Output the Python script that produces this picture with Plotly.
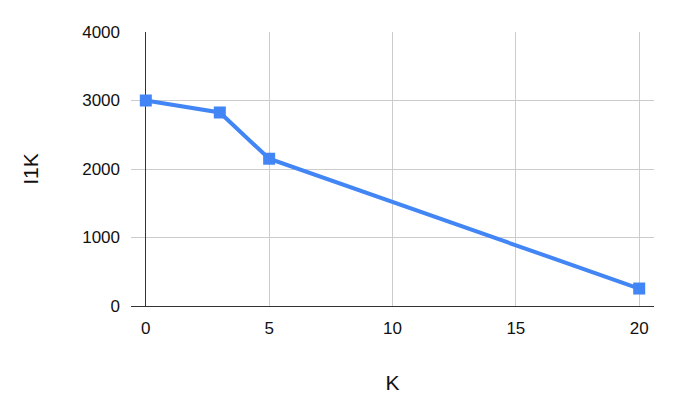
import plotly.graph_objects as go

k_values = [0, 3, 5, 20]
i1k_values = [3000, 2825, 2150, 255]
x_ticks = [0, 5, 10, 15, 20]
y_ticks = [0, 1000, 2000, 3000, 4000]

fig = go.Figure()
fig.add_trace(go.Scatter(
    x=k_values, y=i1k_values, mode="lines+markers",
    line=dict(color="#4285F4", width=4),
    marker=dict(symbol="square", size=12, color="#4285F4"),
    showlegend=False,
))

font = dict(family="Liberation Sans, Arial, sans-serif", size=17, color="#111111")
fig.update_layout(
    width=667, height=410,
    margin=dict(l=123, r=21, t=24, b=112),
    paper_bgcolor="white", plot_bgcolor="white",
    font=font,
    xaxis=dict(
        range=[-0.6, 20.6], tickvals=x_ticks, showgrid=True, gridcolor="#cccccc", gridwidth=1,
        zeroline=True, zerolinecolor="#333333", zerolinewidth=1,
        showline=False, ticks="", ticklabelstandoff=10,
        title=dict(text="K", font=dict(size=21, color="#111111"), standoff=38),
    ),
    yaxis=dict(
        range=[0, 4000], tickvals=y_ticks, showgrid=True, gridcolor="#cccccc", gridwidth=1,
        zeroline=True, zerolinecolor="#333333", zerolinewidth=1,
        ticks="", ticklabelstandoff=10,
        title=dict(text="I1K", font=dict(size=21, color="#111111"), standoff=37),
    ),
)
fig.write_html("out.html")
